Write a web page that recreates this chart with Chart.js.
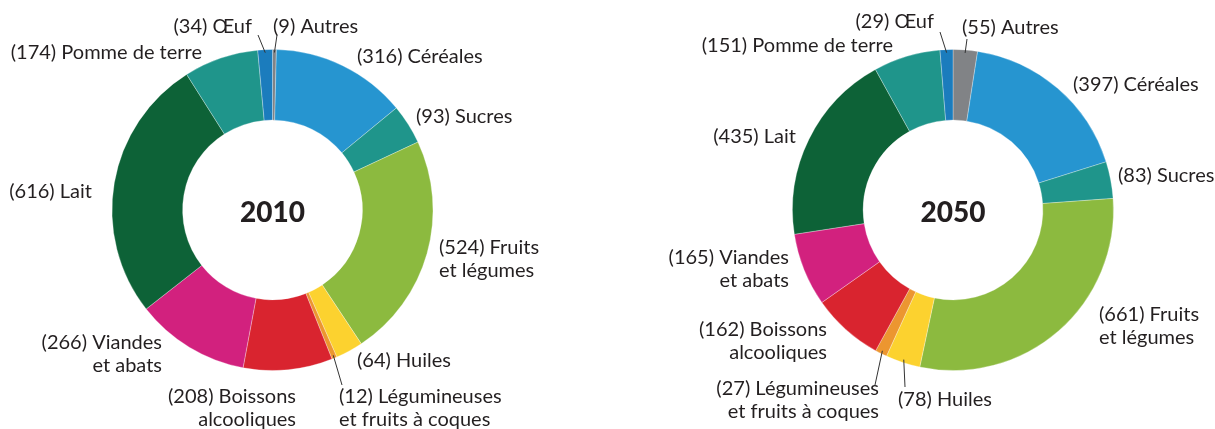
<!DOCTYPE html>
<html lang="fr">
<head>
<meta charset="utf-8">
<script src="https://cdn.jsdelivr.net/npm/chart.js@4/dist/chart.umd.min.js"></script>
<style>
  html, body { margin: 0; padding: 0; background: #fff; }
  #wrap { position: relative; width: 1215px; height: 429px; overflow: hidden; }
  .donut { position: absolute; top: 0; }
</style>
</head>
<body>
<div id="wrap">
  <canvas id="chart2010" class="donut" style="left:0px;width:607px;height:429px" width="607" height="429"></canvas>
  <canvas id="chart2050" class="donut" style="left:607px;width:608px;height:429px" width="608" height="429"></canvas>
</div>
<script>
// Categories, in drawing order starting from 12 o'clock, clockwise
const categories = [
  "Autres",
  "Céréales",
  "Sucres",
  "Fruits\net légumes",
  "Huiles",
  "Légumineuses\net fruits à coques",
  "Boissons\nalcooliques",
  "Viandes\net abats",
  "Lait",
  "Pomme de terre",
  "Œuf",
];

const values2010 = [9, 316, 93, 524, 64, 12, 208, 266, 616, 174, 34];
const values2050 = [55, 397, 83, 661, 78, 27, 162, 165, 435, 151, 29];

const years = ["2010", "2050"];

const palette = [
  "#818386", // autres
  "#2695d0", // céréales
  "#1f958b", // sucres
  "#8cba3f", // fruits et légumes
  "#fcd22f", // huiles
  "#ec9630", // légumineuses
  "#d9242f", // boissons
  "#d2217e", // viandes
  "#0d6237", // lait
  "#1f958b", // pomme de terre
  "#1b7cbd", // oeuf
];

const textColor = "#231f20";
const lineHeight = 23;

// Label anchors relative to the doughnut centre: [dx, dy, align]
const labelLayout2010 = [
  [0.5, -183, "left"],
  [84.5, -153, "left"],
  [143.5, -93, "left"],
  [166.5, 38, "left"],
  [84.5, 151, "left"],
  [66.5, 187, "left"],
  [23.5, 187, "right"],
  [-110.5, 133, "right"],
  [-180.5, -18, "right"],
  [-70.5, -157, "right"],
  [-20.5, -183, "right"],
];
const labelLayout2050 = [
  [9, -182, "left"],
  [120, -125, "left"],
  [165, -34, "left"],
  [146, 105, "left"],
  [-55, 190, "left"],
  [-74, 179, "right"],
  [-126, 120, "right"],
  [-164, 48, "right"],
  [-157, -73, "right"],
  [-60, -164, "right"],
  [-19, -188, "right"],
];

// Leader line end points (relative to centre) for the thin slices
const leaders2010 = { 0: [4.5, -175], 5: [69.5, 175], 10: [-14.5, -175] };
const leaders2050 = { 0: [14, -171], 4: [-48, 177], 5: [-78, 175], 10: [-13, -178] };

// Draws the year in the hole, the slice labels and the leader lines
const sliceLabels = {
  id: "sliceLabels",
  afterDatasetsDraw(chart, args, opts) {
    const ctx = chart.ctx;
    const meta = chart.getDatasetMeta(0);
    const values = chart.data.datasets[0].data;
    const cx = meta.data[0].x;
    const cy = meta.data[0].y;

    ctx.save();
    ctx.fillStyle = "#231f20";
    ctx.font = "900 28px Lato";
    ctx.textAlign = "center";
    ctx.textBaseline = "middle";
    ctx.fillText(opts.year, cx, cy + 3);

    ctx.font = "20px Lato";
    ctx.fillStyle = textColor;
    ctx.strokeStyle = "#333333";
    ctx.lineWidth = 1;

    meta.data.forEach((arc, i) => {
      const pos = opts.layout[i];
      const lines = categories[i].split("\n");
      lines[0] = `(${values[i]}) ${lines[0]}`;
      ctx.textAlign = pos[2];
      lines.forEach((line, k) => {
        ctx.fillText(line, cx + pos[0], cy + pos[1] + k * lineHeight);
      });

      const lead = opts.leaders[i];
      if (lead) {
        const p = arc.getProps(["startAngle", "endAngle", "outerRadius"], true);
        const mid = (p.startAngle + p.endAngle) / 2;
        const r = p.outerRadius - 3;
        ctx.beginPath();
        ctx.moveTo(cx + Math.cos(mid) * r, cy + Math.sin(mid) * r);
        ctx.lineTo(cx + lead[0], cy + lead[1]);
        ctx.stroke();
      }
    });
    ctx.restore();
  },
};

function createDonut(canvasId, values, year, layout, leaders, padding) {
  const canvas = document.getElementById(canvasId);
  return new Chart(canvas.getContext("2d"), {
    type: "doughnut",
    data: {
      labels: categories,
      datasets: [
        {
          data: values,
          backgroundColor: palette,
          borderColor: "rgba(255,255,255,0.6)",
          borderWidth: 0.5,
        },
      ],
    },
    options: {
      responsive: false,
      animation: false,
      radius: 160.5,
      cutout: "56%",
      layout: { padding: padding },
      plugins: {
        legend: { display: false },
        tooltip: { enabled: false },
        sliceLabels: { year: year, layout: layout, leaders: leaders },
      },
    },
    plugins: [sliceLabels],
  });
}

document.fonts.load("20px Lato").then(() => document.fonts.load("900 28px Lato")).finally(() => {
  createDonut("chart2010", values2010, years[0], labelLayout2010, leaders2010,
    { left: 0, right: 62, top: 0, bottom: 9 });
  createDonut("chart2050", values2050, years[1], labelLayout2050, leaders2050,
    { left: 84, right: 0, top: 0, bottom: 9 });
});
</script>
</body>
</html>
